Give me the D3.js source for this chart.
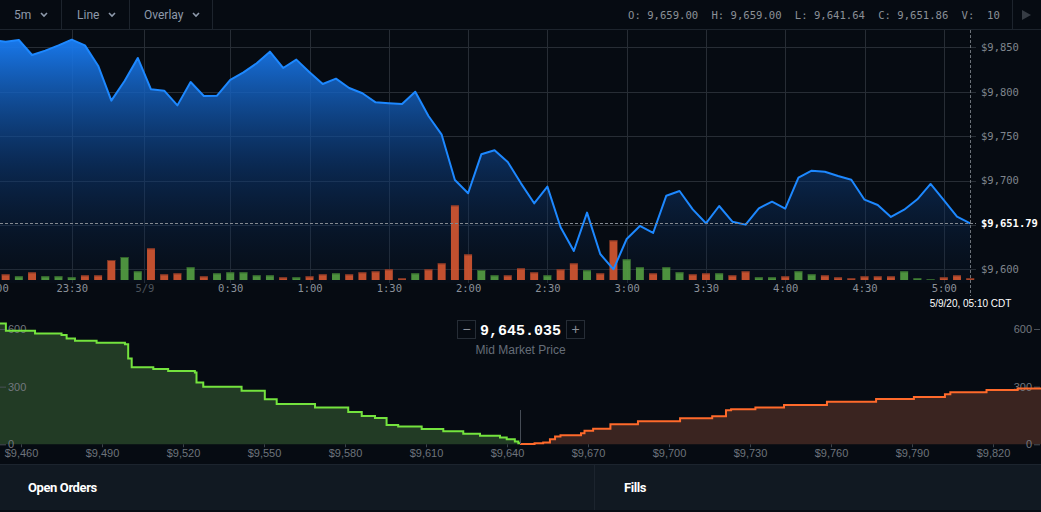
<!DOCTYPE html>
<html>
<head>
<meta charset="utf-8">
<script src="https://cdn.jsdelivr.net/npm/d3@7"></script>
<style>
  body { margin: 0; background: #060b12; overflow: hidden; }
  svg { display: block; }
  .mono { font-family: "DejaVu Sans Mono", monospace; }
</style>
</head>
<body>
<svg id="chart" width="1041" height="512"></svg>
<script>
// 5 minute closes, 5/8 23:00 -> 5/9 05:10
var closes = [
  9858.0, 9856.3, 9858.2, 9841.3, 9846.2, 9852.2, 9858.6, 9852.2, 9829.3, 9789.9, 9812.0, 9838.0,
  9802.7, 9801.2, 9784.6, 9810.9, 9795.2, 9795.5, 9813.2, 9821.8, 9832.0, 9845.1, 9826.7, 9836.1,
  9821.8, 9808.7, 9814.7, 9804.2, 9798.2, 9788.0, 9786.9, 9786.1, 9800.0, 9772.6, 9751.6, 9700.6,
  9685.6, 9729.5, 9734.0, 9720.8, 9696.8, 9674.3, 9693.1, 9647.3, 9620.6, 9663.8, 9617.2, 9600.0,
  9634.1, 9648.8, 9640.9, 9682.9, 9688.2, 9667.5, 9651.8, 9671.3, 9653.6, 9650.3, 9668.7, 9676.2,
  9668.3, 9703.2, 9711.1, 9709.9, 9705.1, 9700.9, 9678.4, 9672.4, 9658.9, 9667.1, 9678.8, 9696.1,
  9678.0, 9659.3, 9651.79
];
var volumes = [
  30, 34, 22, 46, 22, 22, 16, 28, 28, 120, 138, 52,
  190, 34, 40, 76, 22, 40, 46, 46, 28, 28, 16, 16,
  22, 34, 40, 34, 46, 52, 64, 10, 40, 64, 100, 448,
  154, 60, 28, 28, 70, 46, 28, 64, 100, 58, 40, 238,
  124, 76, 40, 76, 46, 34, 40, 40, 28, 52, 16, 16,
  22, 52, 34, 28, 16, 10, 22, 22, 22, 52, 10, 4,
  16, 28, 10
];
var sides = (
  "d d u d u u u d d d u u " +
  "d d d u d u u u u u d u " +
  "d d u d d d d d u d d d " +
  "d u u d d d u d d u d d " +
  "u u d u u d d u d d u u " +
  "d u u d d d d d d u u u " +
  "d d d").split(" ");

var priceTicks = [9600, 9650, 9700, 9750, 9800, 9850];
var tickMinutes = [0, 30, 57.5, 90, 120, 150, 180, 210, 240, 270, 300, 330, 360];
var tickLabels = ["23:00", "23:30", "5/9", "0:30", "1:00", "1:30", "2:00", "2:30", "3:00", "3:30", "4:00", "4:30", "5:00"];
var lastPrice = 9651.79;

var ohlcLabels = ["O:", "H:", "L:", "C:", "V:"];
var ohlcValues = ["9,659.00", "9,659.00", "9,641.64", "9,651.86", " 10"];

// order book depth (cumulative)
var bidPrices = [9450, 9454.4, 9465.2, 9475.0, 9476.9, 9480.0, 9488.0, 9498.5, 9499.7, 9501.0, 9509.0, 9514.5,
  9524.4, 9525.0, 9527.5, 9541.7, 9550.3, 9554.7, 9568.9, 9581.2, 9586.2, 9591.1, 9595.4, 9599.7,
  9608.4, 9616.4, 9623.8, 9630.0, 9637.4, 9639.9, 9642.9, 9644.2, 9644.8];
var bidDepth = [629, 591, 577, 569, 551, 539, 529, 520, 447, 401, 392, 381,
  373, 321, 300, 279, 234, 210, 192, 168, 147, 137, 101, 92,
  80, 68, 55, 45, 36, 26, 14, 5, 0];
var askPrices = [9644.8, 9650.2, 9653.4, 9655.9, 9657.8, 9659.8, 9667.4, 9668.7, 9671.9, 9678.3, 9688.5, 9704.1,
  9716.0, 9721.1, 9723.0, 9732.0, 9742.6, 9758.5, 9776.7, 9790.7, 9802.2, 9804.2, 9817.6, 9829.1, 9845];
var askDepth = [2, 5, 10, 26, 40, 47, 57, 71, 81, 104, 120, 135,
  146, 177, 182, 192, 205, 222, 236, 246, 260, 271, 283, 291, 300];
var depthPriceTicks = [9460, 9490, 9520, 9550, 9580, 9610, 9640, 9670, 9700, 9730, 9760, 9790, 9820];
var depthTicks = [0, 300, 600];
var midPrice = 9645.035;

var W = 1041;
var svg = d3.select("#chart");
var defs = svg.append("defs");

// ---------- header ----------
svg.append("rect").attr("width", W).attr("height", 29).attr("fill", "#060b12");
svg.append("line").attr("x1", 0).attr("x2", W).attr("y1", 29.5).attr("y2", 29.5).attr("stroke", "#1d242d");
[61.5, 129.5, 212.5, 1012.5].forEach(function(sx) {
  svg.append("line").attr("x1", sx).attr("x2", sx).attr("y1", 0).attr("y2", 29).attr("stroke", "#1d242d");
});
var menus = [["5m", 14, 44], ["Line", 77, 112], ["Overlay", 144, 196]];
menus.forEach(function(m) {
  svg.append("text").attr("x", m[1]).attr("y", 19)
    .style("font-family", "Roboto, sans-serif").style("font-size", "12px")
    .attr("fill", "#8e9aab").text(m[0]);
  svg.append("path").attr("d", "M" + (m[2] - 3) + ",13 l3,3 l3,-3")
    .attr("fill", "none").attr("stroke", "#8e9aab").attr("stroke-width", 1.6);
});
ohlcLabels.forEach(function(l, i) {
  svg.append("text").attr("class", "mono").attr("x", 628 + i * 83.4).attr("y", 19)
    .style("font-size", "10.6px").style("white-space", "pre")
    .attr("fill", "#8b9097").text(l + " " + ohlcValues[i]);
});
svg.append("path").attr("d", "M1022,10 L1031,15 L1022,20 Z").attr("fill", "#363c44");

// ---------- price chart ----------
var t0 = new Date(2020, 4, 8, 23, 0);
function tAt(min) { return new Date(+t0 + min * 60000); }
var times = closes.map(function(d, i) { return tAt(i * 5); });

var x = d3.scaleTime()
    .domain([tAt(30), tAt(360)])
    .range([71.7, 943.8]);
var y = d3.scaleLinear()
    .domain([9600, 9850])
    .range([269.3, 47.3]);
var yVol = d3.scaleLinear()
    .domain([0, 600])
    .range([280, 180]);

var plotRight = 976, plotBottom = 283;

defs.append("clipPath").attr("id", "plotclip")
  .append("rect").attr("x", 0).attr("y", 30).attr("width", plotRight).attr("height", plotBottom - 30);

var grad = defs.append("linearGradient").attr("id", "areagrad")
    .attr("gradientUnits", "userSpaceOnUse")
    .attr("x1", 0).attr("x2", 0).attr("y1", 30).attr("y2", plotBottom);
grad.append("stop").attr("offset", "0").attr("stop-color", "#1a80fa").attr("stop-opacity", 1);
grad.append("stop").attr("offset", "0.55").attr("stop-color", "#0d3e80").attr("stop-opacity", 0.55);
grad.append("stop").attr("offset", "1").attr("stop-color", "#0a1c36").attr("stop-opacity", 0.15);

// horizontal grid
svg.append("g").selectAll("line").data(priceTicks).enter()
  .append("line")
    .attr("x1", 0).attr("x2", plotRight)
    .attr("y1", function(d) { return Math.round(y(d)) + 0.5; })
    .attr("y2", function(d) { return Math.round(y(d)) + 0.5; })
    .attr("stroke", "#272d35").attr("stroke-width", 1);

// vertical grid
svg.append("g").selectAll("line").data(tickMinutes).enter()
  .append("line")
    .attr("x1", function(d) { return Math.round(x(tAt(d))) + 0.5; })
    .attr("x2", function(d) { return Math.round(x(tAt(d))) + 0.5; })
    .attr("y1", 30).attr("y2", plotBottom)
    .attr("stroke", "#272d35").attr("stroke-width", 1);

var plot = svg.append("g").attr("clip-path", "url(#plotclip)");

var area = d3.area()
    .x(function(d, i) { return x(times[i]); })
    .y0(plotBottom)
    .y1(function(d) { return y(d); });
plot.append("path").datum(closes).attr("d", area).attr("fill", "url(#areagrad)");

// volume bars
var step = x(tAt(5)) - x(tAt(0));
var bw = step * 0.6;
var bars = plot.append("g").attr("opacity", 0.92);
bars.selectAll("rect.vol").data(volumes).enter()
  .append("rect")
    .attr("class", "vol")
    .attr("x", function(d, i) { return x(times[i]) - bw / 2; })
    .attr("width", bw)
    .attr("y", function(d) { return yVol(d); })
    .attr("height", function(d) { return yVol(0) - yVol(d); })
    .attr("fill", function(d, i) { return sides[i] === "u" ? "#539d42" : "#d25631"; });
bars.selectAll("rect.cap").data(volumes).enter()
  .append("rect")
    .attr("class", "cap")
    .attr("x", function(d, i) { return x(times[i]) - bw / 2; })
    .attr("width", bw)
    .attr("y", function(d) { return yVol(d); })
    .attr("height", function(d) { return Math.min(1, yVol(0) - yVol(d)); })
    .attr("fill", function(d, i) { return sides[i] === "u" ? "#356a2c" : "#7c3526"; });

var line = d3.line()
    .x(function(d, i) { return x(times[i]); })
    .y(function(d) { return y(d); });
plot.append("path").datum(closes).attr("d", line)
  .attr("fill", "none").attr("stroke", "#1d88ff").attr("stroke-width", 2).attr("stroke-linejoin", "round");

// last price dashed line
svg.append("line")
  .attr("x1", 0).attr("x2", plotRight)
  .attr("y1", Math.round(y(lastPrice)) + 0.5).attr("y2", Math.round(y(lastPrice)) + 0.5)
  .attr("stroke", "#858a91").attr("stroke-dasharray", "3,2");

// crosshair at last candle
var xLast = Math.round(x(times[times.length - 1])) + 0.5;
svg.append("line")
  .attr("x1", xLast).attr("x2", xLast).attr("y1", 30).attr("y2", 296)
  .attr("stroke", "#6b7178").attr("stroke-dasharray", "3,2");

// right price axis
var fmtPrice = function(d) { return "$" + d3.format(",")(d); };
var yAxis = svg.append("g")
    .attr("transform", "translate(" + plotRight + ",0)")
    .call(d3.axisRight(y).tickValues(priceTicks.filter(function(d) { return d !== 9650; }))
      .tickSize(0).tickPadding(5).tickFormat(fmtPrice));
yAxis.select(".domain").remove();
yAxis.selectAll("text").attr("class", "mono").style("font-size", "10.5px").attr("fill", "#7f858d");

svg.append("text").attr("class", "mono")
  .attr("x", plotRight + 5).attr("y", y(lastPrice)).attr("dy", "0.35em")
  .style("font-size", "10.5px").style("font-weight", "bold")
  .attr("fill", "#ffffff").text(fmtPrice(lastPrice).replace(/(\.\d)$/, "$10"));

// time axis
var xAxis = svg.append("g")
    .attr("transform", "translate(0," + plotBottom + ")")
    .call(d3.axisBottom(x).tickValues(tickMinutes.map(tAt))
      .tickSize(0).tickPadding(2)
      .tickFormat(function(d, i) { return tickLabels[i]; }));
xAxis.select(".domain").remove();
xAxis.selectAll("text").attr("class", "mono").style("font-size", "10.5px")
  .attr("fill", function(d, i) { return tickLabels[i] === "5/9" ? "#4b525b" : "#8a9099"; });

svg.append("text")
  .attr("x", xLast).attr("y", 307).attr("text-anchor", "middle")
  .style("font-family", "'Liberation Sans', Arial, sans-serif").style("font-size", "10px")
  .attr("fill", "#ffffff").text("5/9/20, 05:10 CDT");

// ---------- depth chart ----------
var xd = d3.scaleLinear().domain([9460, 9820]).range([21, 993]);
var yd = d3.scaleLinear().domain([0, 600]).range([444.3, 329]);

var bids = bidPrices.map(function(p, i) { return [p, bidDepth[i]]; });
var asks = askPrices.map(function(p, i) { return [p, askDepth[i]]; });

var dArea = d3.area().curve(d3.curveStepAfter)
    .x(function(d) { return xd(d[0]); })
    .y0(yd(0))
    .y1(function(d) { return yd(d[1]); });
var dLine = d3.line().curve(d3.curveStepAfter)
    .x(function(d) { return xd(d[0]); })
    .y(function(d) { return yd(d[1]); });

svg.append("path").datum(bids).attr("d", dArea).attr("fill", "#223b25");
svg.append("path").datum(asks).attr("d", dArea).attr("fill", "#3a2420");

// depth y axes
var ylAxis = svg.append("g").attr("transform", "translate(0,0)")
    .call(d3.axisRight(yd).tickValues(depthTicks).tickSize(6).tickPadding(2));
var yrAxis = svg.append("g").attr("transform", "translate(1040,0)")
    .call(d3.axisLeft(yd).tickValues(depthTicks).tickSize(6).tickPadding(2));
[ylAxis, yrAxis].forEach(function(a) {
  a.select(".domain").remove();
  a.selectAll("line").attr("stroke", "#4a5058");
  a.selectAll("text").style("font-family", "'Liberation Sans', Arial, sans-serif")
    .style("font-size", "11px").attr("fill", "#72787f");
});

svg.append("path").datum(bids).attr("d", dLine)
  .attr("fill", "none").attr("stroke", "#74e33e").attr("stroke-width", 2);
svg.append("path").datum(asks).attr("d", dLine)
  .attr("fill", "none").attr("stroke", "#ff6a2b").attr("stroke-width", 2);

// mid market marker
var mx = xd(midPrice);
svg.append("line").attr("x1", Math.round(mx) - 0.5).attr("x2", Math.round(mx) - 0.5)
  .attr("y1", 410).attr("y2", 444).attr("stroke", "#454c55");

// depth x axis
var xdAxis = svg.append("g")
    .attr("transform", "translate(0," + yd(0) + ")")
    .call(d3.axisBottom(xd).tickValues(depthPriceTicks).tickSize(3).tickPadding(2)
      .tickFormat(fmtPrice));
xdAxis.select(".domain").remove();
xdAxis.selectAll("line").attr("stroke", "#3c434b");
xdAxis.selectAll("text").style("font-family", "'Liberation Sans', Arial, sans-serif")
  .style("font-size", "11px").attr("fill", "#6d737b");

// mid price widget
var mid = svg.append("g");
[[mx - 64, "\u2212"], [mx + 45, "+"]].forEach(function(b) {
  mid.append("rect").attr("x", Math.round(b[0]) + 0.5).attr("y", 320.5).attr("width", 18).attr("height", 18)
    .attr("fill", "none").attr("stroke", "#262d36");
  mid.append("text").attr("x", Math.round(b[0]) + 9.5).attr("y", 334).attr("text-anchor", "middle")
    .style("font-family", "'Liberation Sans', Arial, sans-serif").style("font-size", "14px")
    .attr("fill", "#8a9099").text(b[1]);
});
mid.append("text").attr("x", mx).attr("y", 335).attr("text-anchor", "middle")
  .style("font-family", "'Liberation Mono', monospace").style("font-size", "15px").style("font-weight", "bold")
  .attr("fill", "#ffffff").text(d3.format(",.3f")(midPrice));
mid.append("text").attr("x", mx).attr("y", 354).attr("text-anchor", "middle")
  .style("font-family", "'Liberation Sans', Arial, sans-serif").style("font-size", "12px")
  .attr("fill", "#656d78").text("Mid Market Price");

// ---------- bottom tabs ----------
svg.append("rect").attr("x", 0).attr("y", 464).attr("width", W).attr("height", 46).attr("fill", "#111922");
svg.append("line").attr("x1", 0).attr("x2", W).attr("y1", 464.5).attr("y2", 464.5).attr("stroke", "#1c242e");
svg.append("line").attr("x1", 594.5).attr("x2", 594.5).attr("y1", 465).attr("y2", 510).attr("stroke", "#1c242e");
svg.append("rect").attr("x", 0).attr("y", 510).attr("width", W).attr("height", 2).attr("fill", "#080d14");
[["Open Orders", 28], ["Fills", 624]].forEach(function(t) {
  svg.append("text").attr("x", t[1]).attr("y", 492)
    .style("font-family", "Roboto, sans-serif").style("font-size", "13px").style("font-weight", "bold")
    .style("letter-spacing", "-0.4px")
    .attr("fill", "#ffffff").text(t[0]);
});
</script>
</body>
</html>
